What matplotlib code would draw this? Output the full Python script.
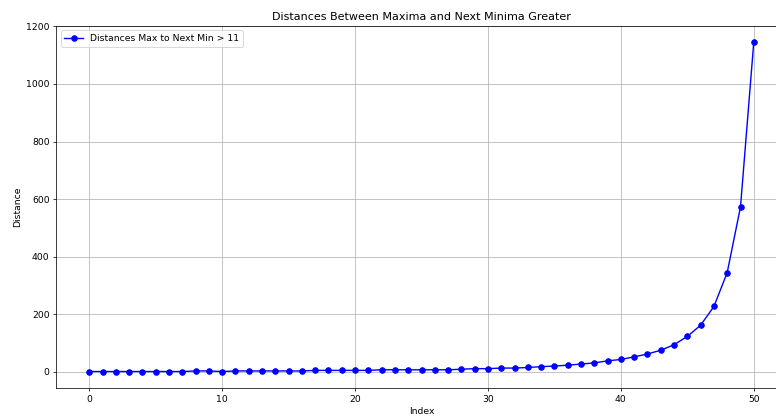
import numpy as np
import matplotlib
matplotlib.use("Agg")
import matplotlib.pyplot as plt

# distances, index 0..50
index = list(range(51))
distances = [1, 1, 1, 1, 1, 1, 1, 1, 3, 3,
             1, 3, 3, 3, 3, 3, 3, 5, 5, 5,
             5, 5, 7, 7, 7, 7, 7, 7, 9, 11,
             11, 13, 13, 15, 18, 20, 23, 27, 31, 38,
             43, 52, 62, 75, 94, 123, 162, 227, 345, 573,
             1146]
series_label = 'Distances Max to Next Min > 11'

DPI = 67
fig = plt.figure(figsize=(776 / DPI, 416 / DPI), dpi=DPI)
# axes runs past the right edge, like the cropped original
ax = fig.add_axes([0.0722, 0.0673, 0.942, 0.8714])

ax.plot(index, distances, marker='o', color='b', label=series_label)
ax.set_title('Distances Between Maxima and Next Minima Greater')
ax.set_xlabel('Index')
ax.set_ylabel('Distance')
ax.grid(True)
ax.legend(loc='upper left')

fig.savefig('out.png', dpi=DPI)
